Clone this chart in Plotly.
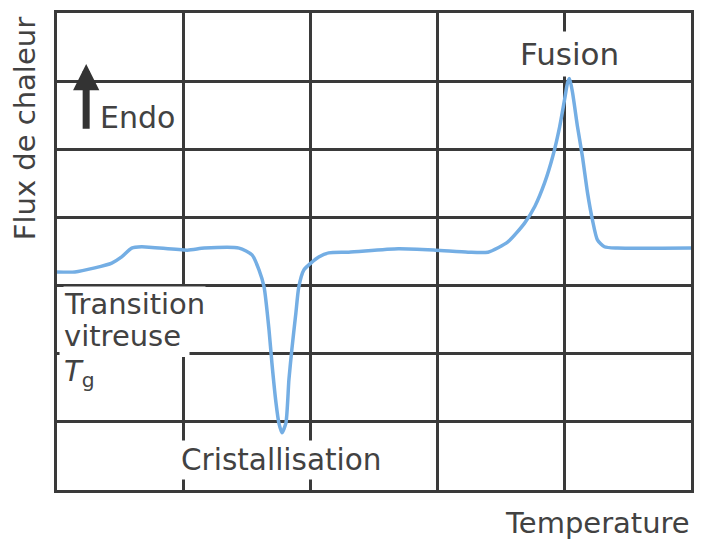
import plotly.graph_objects as go

# DSC thermogram: heat flow versus temperature (arbitrary units, grid = 5 x 7 cells)
temperature = [0.000, 0.141, 0.298, 0.432, 0.510, 0.589, 0.667, 1.028, 1.162, 1.436,
               1.538, 1.593, 1.633, 1.672, 1.695, 1.727, 1.750, 1.774, 1.805, 1.829,
               1.852, 1.884, 1.907, 1.947, 2.002, 2.064, 2.143, 2.300, 2.692, 2.983,
               3.242, 3.399, 3.556, 3.689, 3.768, 3.846, 3.909, 3.964, 4.003, 4.027,
               4.042, 4.066, 4.105, 4.144, 4.184, 4.223, 4.262, 4.317, 4.419, 5.000]
heat_flow = [3.20, 3.20, 3.26, 3.33, 3.42, 3.55, 3.57, 3.52, 3.55, 3.55,
             3.45, 3.23, 2.98, 2.35, 1.86, 1.28, 0.98, 0.84, 0.98, 1.62,
             2.06, 2.60, 2.98, 3.23, 3.33, 3.42, 3.48, 3.49, 3.54, 3.52,
             3.49, 3.49, 3.64, 3.92, 4.16, 4.51, 4.89, 5.33, 5.73, 5.98,
             6.04, 5.83, 5.33, 4.89, 4.36, 3.96, 3.67, 3.57, 3.55, 3.55]

y_title = "Flux de chaleur"
x_title = "Temperature"
label_endo = "Endo"
label_tg_lines = ["Transition", "vitreuse", "<i>T</i><sub>g</sub>"]
label_cryst = "Cristallisation"
label_fusion = "Fusion"

FONT = "DejaVu Sans"
TXT = "#424242"
GRID = "#3a3a3a"

fig = go.Figure()
fig.add_trace(go.Scatter(
    x=temperature, y=heat_flow, mode="lines",
    line=dict(color="#74aee4", width=3.5, shape="spline", smoothing=0.6),
    hoverinfo="skip", showlegend=False,
))

axis_common = dict(
    showticklabels=False, ticks="", zeroline=False,
    showgrid=True, gridcolor=GRID, gridwidth=2.6, dtick=1,
    showline=True, linecolor=GRID, linewidth=3, mirror=True,
)
fig.update_xaxes(range=[0, 5], tick0=0, **axis_common)
fig.update_yaxes(range=[0, 7], tick0=0, **axis_common)

# white patch behind the glass-transition label, hiding the grid there
fig.add_shape(type="rect", xref="x", yref="y", x0=0.02, x1=1.045, y0=1.95, y1=2.9,
              fillcolor="white", line=dict(width=0), layer="above")

tg_y = [2.73, 2.26, 1.72]
annotations = [
    dict(text=y_title, xref="paper", yref="paper", x=-0.050, y=0.757,
         xanchor="center", yanchor="middle",
         textangle=-90, showarrow=False, font=dict(size=29, color=TXT, family=FONT)),
    dict(text=x_title, xref="paper", yref="paper", x=0.852, y=-0.069,
         xanchor="center", yanchor="middle",
         showarrow=False, font=dict(size=29, color=TXT, family=FONT)),
    dict(text=label_endo, xref="x", yref="y", x=0.32, y=5.47, xanchor="left",
         showarrow=False, font=dict(size=30, color=TXT, family=FONT)),
    dict(text="", xref="x", yref="y", axref="x", ayref="y",
         x=0.23, y=6.25, ax=0.23, ay=5.28,
         showarrow=True, arrowhead=2, arrowsize=0.75, arrowwidth=7, arrowcolor="#333333"),
    dict(text=label_cryst, xref="x", yref="y", x=1.77, y=0.44,
         showarrow=False, bgcolor="white", borderpad=2,
         font=dict(size=29.5, color=TXT, family=FONT)),
    dict(text=label_fusion, xref="x", yref="y", x=4.04, y=6.4,
         showarrow=False, bgcolor="white", borderpad=4,
         font=dict(size=31, color=TXT, family=FONT)),
]
for text, yy in zip(label_tg_lines, tg_y):
    annotations.append(dict(
        text=text, xref="x", yref="y", x=0.05, y=yy, xanchor="left", yanchor="middle",
        showarrow=False, bgcolor="white", borderpad=0,
        font=dict(size=29, color=TXT, family=FONT)))

fig.update_layout(
    width=701, height=542,
    margin=dict(l=57, r=7, t=13, b=52),
    paper_bgcolor="white", plot_bgcolor="white",
    annotations=annotations,
)

fig.write_html("out.html")
